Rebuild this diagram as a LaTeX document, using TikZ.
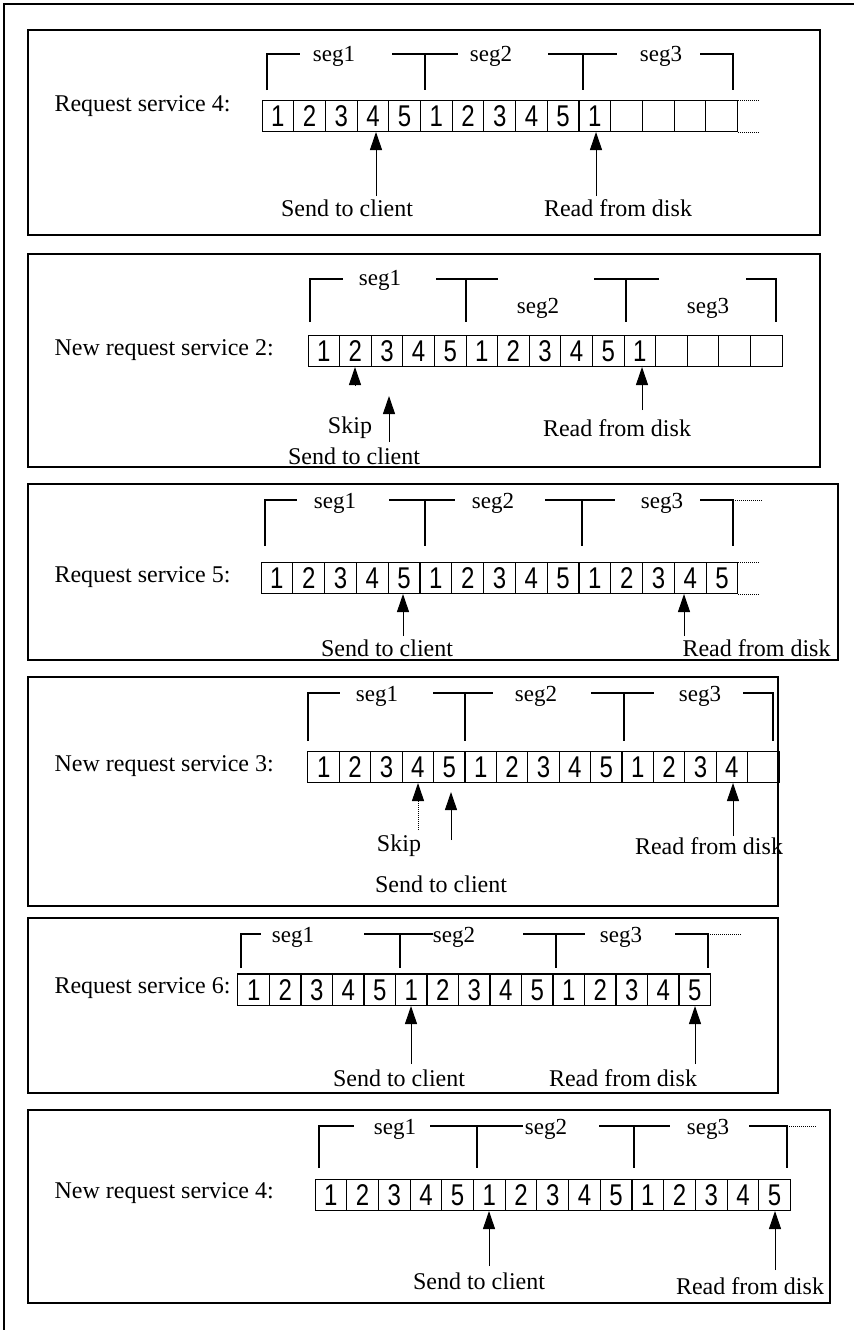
\documentclass[tikz,border=0pt]{standalone}
\usepackage{fontspec}
\setmainfont{Liberation Serif}
\newfontfamily\cellfont[FakeStretch=0.8]{Liberation Sans}
\usetikzlibrary{arrows.meta}

\begin{document}
\begin{tikzpicture}[x=1pt, y=-1pt, line width=1.1pt,
    panel/.style={draw, line width=1.4pt},
    cell/.style={draw, line width=1pt, minimum width=31.6pt, minimum height=31pt, inner sep=0pt,
      font=\cellfont\fontsize{30}{30}\selectfont},
    lbl/.style={font=\fontsize{24}{26}\selectfont, inner sep=0pt},
    seg/.style={font=\fontsize{23}{26}\selectfont, inner sep=0pt, anchor=base},
    arr/.style={-{Triangle[width=12pt,length=18pt]}, line width=1pt},
    brk/.style={line width=1.1pt},
    dots/.style={densely dotted, line width=1pt}]
  \useasboundingbox (0,0) rectangle (854,1330);
  \draw[panel] (4,1330) -- (4,4) -- (854,4);

  % request service 4
  \draw[panel] (28,30) rectangle (820,235);
  \node[lbl, anchor=west] (r1) at (54,106) {Request service 4:};
  \foreach \d [count=\i] in {1,2,3,4,5,1,2,3,4,5,1,{},{},{},{}}
    \node[cell] (a\i) at ({262+31.7*(\i-0.5)},116) {\d};
  \draw[dots] (a15.north east) -- ++(22,0) (a15.south east) -- ++(22,0);
  \node[seg] (a-s1) at (334,62) {seg1};
  \node[seg] (a-s2) at (491,62) {seg2};
  \node[seg] (a-s3) at (661,62) {seg3};
  \draw[brk] (267,90) -- (267,54) -- (300,54) (392,54) -- (458,54) (425,54) -- (425,90)
    (548,54) -- (617,54) (583,54) -- (583,90) (700,54) -- (733,54) -- (733,90);
  \node[lbl] (a-send) at (347,208) {Send to client};
  \node[lbl] (a-read) at (618,208) {Read from disk};
  \coordinate (a-t1) at (376,196);
  \coordinate (a-t2) at (596,196);
  \draw[arr] (a-t1) -- (a-t1 |- a4.south);
  \draw[arr] (a-t2) -- (a-t2 |- a11.south);

  % new request service 2
  \draw[panel] (28,254) rectangle (820,467);
  \node[lbl, anchor=west] (r2) at (54,350) {New request service 2:};
  \foreach \d [count=\i] in {1,2,3,4,5,1,2,3,4,5,1,{},{},{},{}}
    \node[cell] (b\i) at ({308+31.6*(\i-0.5)},351) {\d};
  \node[seg] (b-s1) at (380,285) {seg1};
  \node[seg] (b-s2) at (538,313) {seg2};
  \node[seg] (b-s3) at (708,313) {seg3};
  \draw[brk] (310,322) -- (310,279) -- (343,279) (436,279) -- (498,279) (466,279) -- (466,322)
    (594,279) -- (659,279) (626,279) -- (626,322) (746,279) -- (776,279) -- (776,322);
  \node[lbl] (b-skip) at (350,428) {Skip};
  \node[lbl] (b-send) at (354,456) {Send to client};
  \node[lbl] (b-read) at (617,428) {Read from disk};
  \coordinate (b-t0) at (355,386);
  \coordinate (b-t1) at (389,442);
  \coordinate (b-h1) at (389,396);
  \coordinate (b-t2) at (642,410);
  \draw[arr] (b-t0) -- (b-t0 |- b2.south);
  \draw[arr] (b-t1) -- (b-h1);
  \draw[arr] (b-t2) -- (b-t2 |- b11.south);

  % request service 5
  \draw[panel] (28,484) rectangle (838,660);
  \node[lbl, anchor=west] (r3) at (54,577) {Request service 5:};
  \foreach \d [count=\i] in {1,2,3,4,5,1,2,3,4,5,1,2,3,4,5}
    \node[cell] (c\i) at ({261+31.8*(\i-0.5)},578) {\d};
  \draw[dots] (c15.north east) -- ++(21,0) (c15.south east) -- ++(21,0);
  \node[seg] (c-s1) at (335,508) {seg1};
  \node[seg] (c-s2) at (493,508) {seg2};
  \node[seg] (c-s3) at (662,508) {seg3};
  \draw[brk] (265,546) -- (265,500) -- (297,500) (389,500) -- (455,500) (425,500) -- (425,546)
    (545,500) -- (615,500) (582,500) -- (582,546) (700,500) -- (733,500) -- (733,546);
  \draw[dots] (733,500) -- (762,500);
  \node[lbl] (c-send) at (387,648) {Send to client};
  \node[lbl, anchor=west] (c-read) at (682,648) {Read from disk};
  \coordinate (c-t1) at (403,636);
  \coordinate (c-t2) at (684,636);
  \draw[arr] (c-t1) -- (c-t1 |- c5.south);
  \draw[arr] (c-t2) -- (c-t2 |- c14.south);

  % new request service 3
  \draw[panel] (28,677) rectangle (778,906);
  \node[lbl, anchor=west] (r4) at (54,766) {New request service 3:};
  \foreach \d [count=\i] in {1,2,3,4,5,1,2,3,4,5,1,2,3,4,{}}
    \node[cell] (d\i) at ({308+31.4*(\i-0.5)},767) {\d};
  \node[seg] (d-s1) at (377,701) {seg1};
  \node[seg] (d-s2) at (536,701) {seg2};
  \node[seg] (d-s3) at (700,701) {seg3};
  \draw[brk] (308,741) -- (308,693) -- (340,693) (433,693) -- (493,693) (465,693) -- (465,741)
    (591,693) -- (654,693) (624,693) -- (624,741) (743,693) -- (773,693) -- (773,741);
  \node[lbl] (d-skip) at (399,846) {Skip};
  \node[lbl] (d-send) at (441,884) {Send to client};
  \node[lbl] (d-read) at (709,846) {Read from disk};
  \coordinate (d-t0) at (418,830);
  \coordinate (d-t1) at (451,840);
  \coordinate (d-h1) at (451,792);
  \coordinate (d-t2) at (733,836);
  \draw[arr, densely dotted] (d-t0) -- (d-t0 |- d4.south);
  \draw[arr] (d-t1) -- (d-h1);
  \draw[arr] (d-t2) -- (d-t2 |- d14.south);

  % request service 6
  \draw[panel] (28,918) rectangle (778,1093);
  \node[lbl, anchor=west] (r5) at (54,988) {Request service 6:};
  \foreach \d [count=\i] in {1,2,3,4,5,1,2,3,4,5,1,2,3,4,5}
    \node[cell] (e\i) at ({238+31.5*(\i-0.5)},990) {\d};
  \draw[line width=2.6pt] (e1.north west) -- (e15.north east);
  \node[seg] (e-s1) at (293,942) {seg1};
  \node[seg] (e-s2) at (454,942) {seg2};
  \node[seg] (e-s3) at (621,942) {seg3};
  \draw[brk] (241,968) -- (241,934) -- (261,934) (364,934) -- (433,934) (400,934) -- (400,968)
    (523,934) -- (585,934) (556,934) -- (556,968) (675,934) -- (708,934) -- (708,968);
  \draw[dots] (708,934) -- (741,934);
  \node[lbl] (e-send) at (399,1078) {Send to client};
  \node[lbl] (e-read) at (623,1078) {Read from disk};
  \coordinate (e-t1) at (411,1064);
  \coordinate (e-t2) at (695,1064);
  \draw[arr] (e-t1) -- (e-t1 |- e6.south);
  \draw[arr] (e-t2) -- (e-t2 |- e15.south);

  % new request service 4
  \draw[panel] (28,1110) rectangle (830,1303);
  \node[lbl, anchor=west] (r6) at (54,1193) {New request service 4:};
  \foreach \d [count=\i] in {1,2,3,4,5,1,2,3,4,5,1,2,3,4,5}
    \node[cell] (f\i) at ({315+31.7*(\i-0.5)},1195) {\d};
  \node[seg] (f-s1) at (395,1134) {seg1};
  \node[seg] (f-s2) at (546,1134) {seg2};
  \node[seg] (f-s3) at (708,1134) {seg3};
  \draw[brk] (319,1168) -- (319,1126) -- (354,1126) (430,1126) -- (523,1126) (477,1126) -- (477,1168)
    (599,1126) -- (670,1126) (634,1126) -- (634,1168) (749,1126) -- (787,1126) -- (787,1168);
  \draw[dots] (787,1126) -- (817,1126);
  \node[lbl] (f-send) at (479,1281) {Send to client};
  \node[lbl] (f-read) at (750,1286) {Read from disk};
  \coordinate (f-t1) at (489,1266);
  \coordinate (f-t2) at (775,1270);
  \draw[arr] (f-t1) -- (f-t1 |- f6.south);
  \draw[arr] (f-t2) -- (f-t2 |- f15.south);
\end{tikzpicture}
\end{document}
